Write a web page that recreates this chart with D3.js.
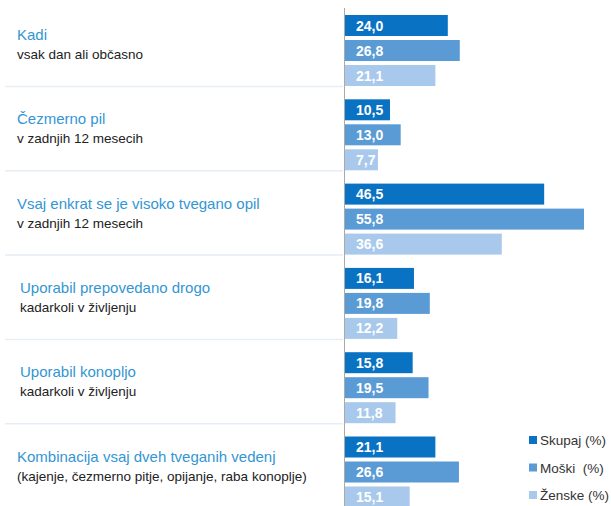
<!DOCTYPE html>
<html>
<head>
<meta charset="utf-8">
<script src="https://cdn.jsdelivr.net/npm/d3@7"></script>
<style>
  body { margin: 0; background: #fff; }
  svg { display: block; font-family: "Liberation Sans Narrow", "Arial Narrow", "Liberation Sans", Arial, sans-serif; }
</style>
</head>
<body>
<div id="chart"></div>
<script>
// categories: title + subtitle
const titles = [
    'Kadi',
    'Čezmerno pil',
    'Vsaj enkrat se je visoko tvegano opil',
    'Uporabil prepovedano drogo',
    'Uporabil konopljo',
    'Kombinacija vsaj dveh tveganih vedenj'
];
const subtitles = [
    'vsak dan ali občasno',
    'v zadnjih 12 mesecih',
    'v zadnjih 12 mesecih',
    'kadarkoli v življenju',
    'kadarkoli v življenju',
    '(kajenje, čezmerno pitje, opijanje, raba konoplje)'
];

const seriesNames = ['Skupaj (%)', 'Moški  (%)', 'Ženske (%)'];
const skupaj = [24.0, 10.5, 46.5, 16.1, 15.8, 21.1];
const moski = [26.8, 13.0, 55.8, 19.8, 19.5, 26.6];
const zenske = [21.1, 7.7, 36.6, 12.2, 11.8, 15.1];

const colors = ['#0a72c2', '#5b9bd5', '#a9c9ec'];

const width = 611, height = 506;
const allSeries = [skupaj, moski, zenske];

const svg = d3.select('#chart').append('svg')
    .attr('width', width)
    .attr('height', height);

const x = d3.scaleLinear().domain([0, 60]).range([345, 602]);

const y0 = d3.scaleBand()
    .domain(d3.range(titles.length))
    .range([15, 15 + 84.3 * titles.length]);

const y1 = d3.scaleBand()
    .domain(d3.range(seriesNames.length))
    .range([0, 71])
    .paddingInner(0.16);

// separators left of the axis
svg.selectAll('.sep')
    .data(d3.range(titles.length - 1))
    .enter().append('line')
    .attr('x1', 5).attr('x2', 343)
    .attr('y1', i => y0(i) + 71.5).attr('y2', i => y0(i) + 71.5)
    .attr('stroke', '#e6edf4')
    .attr('stroke-width', 1.5);

const groups = svg.selectAll('.grp')
    .data(titles)
    .enter().append('g')
    .attr('transform', (d, i) => `translate(0,${y0(i)})`);

groups.append('text')
    .attr('x', (d, i) => (i === 3 || i === 4) ? 20 : 17)
    .attr('y', 25)
    .attr('fill', '#3396d3')
    .attr('font-size', 15)
    .text(d => d);

groups.append('text')
    .attr('x', (d, i) => (i === 3 || i === 4) ? 20 : 17)
    .attr('y', 44)
    .attr('fill', '#222')
    .attr('font-size', 13.5)
    .text((d, i) => subtitles[i]);

groups.each(function (d, gi) {
    const g = d3.select(this);
    allSeries.forEach(function (vals, si) {
        g.append('rect')
            .attr('x', x(0))
            .attr('y', y1(si))
            .attr('width', x(vals[gi]) - x(0))
            .attr('height', y1.bandwidth())
            .attr('fill', colors[si]);
        g.append('text')
            .attr('x', x(0) + 11)
            .attr('y', y1(si) + y1.bandwidth() / 2 + 5)
            .attr('fill', '#fff')
            .attr('font-weight', 'bold')
            .attr('font-size', 14)
            .text(vals[gi].toFixed(1).replace('.', ','));
    });
});

// axis line
svg.append('line')
    .attr('x1', 344.5).attr('x2', 344.5)
    .attr('y1', 8).attr('y2', height)
    .attr('stroke', '#aaa');

// legend
const legend = svg.selectAll('.leg')
    .data(seriesNames)
    .enter().append('g')
    .attr('transform', (d, i) => `translate(529,${440 + i * 27.5})`);

legend.append('rect')
    .attr('x', 0).attr('y', -4)
    .attr('width', 8).attr('height', 8)
    .attr('fill', (d, i) => colors[i]);

legend.append('text')
    .attr('x', 11)
    .attr('y', 5)
    .attr('fill', '#333')
    .attr('font-size', 13.5)
    .style('white-space', 'pre')
    .text(d => d);
</script>
</body>
</html>
